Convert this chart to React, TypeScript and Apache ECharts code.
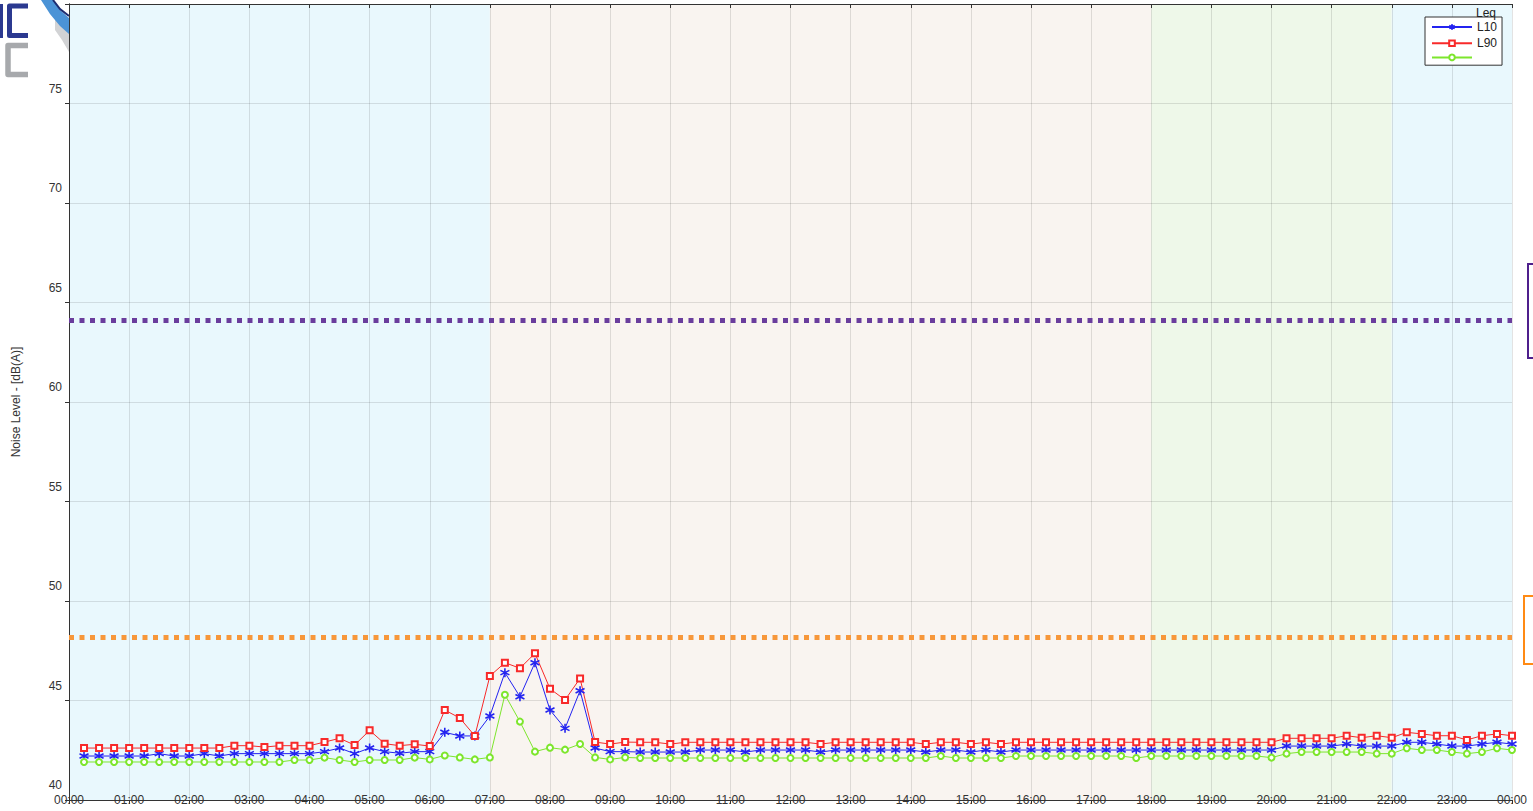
import React, { useEffect, useRef } from "react";
import * as echarts from "echarts";

// ---- data ----
const X_TICK_LABELS = [
  "00:00", "01:00", "02:00", "03:00", "04:00", "05:00", "06:00", "07:00",
  "08:00", "09:00", "10:00", "11:00", "12:00", "13:00", "14:00", "15:00",
  "16:00", "17:00", "18:00", "19:00", "20:00", "21:00", "22:00", "23:00", "00:00",
];

// sample times in minutes after midnight (every 15 minutes, 00:15 .. 24:00)
const TIMES = Array.from({ length: 96 }, (_, i) => (i + 1) * 15);

const SERIES_NAMES = ["Leq", "L10", "L90"];
const LEGEND_LABELS = ["L10", "L90", ""];

const LEQ = [
  42.21, 42.21, 42.21, 42.21, 42.21, 42.33, 42.21, 42.21, 42.33, 42.21,
  42.33, 42.33, 42.33, 42.33, 42.33, 42.33, 42.43, 42.61, 42.33, 42.61,
  42.43, 42.35, 42.43, 42.43, 43.4, 43.22, 43.22, 44.22, 46.4, 45.19,
  46.9, 44.52, 43.6, 45.49, 42.61, 42.43, 42.43, 42.41, 42.41, 42.41,
  42.41, 42.51, 42.51, 42.51, 42.41, 42.51, 42.51, 42.51, 42.51, 42.41,
  42.51, 42.51, 42.51, 42.51, 42.51, 42.51, 42.41, 42.51, 42.51, 42.41,
  42.51, 42.41, 42.51, 42.51, 42.51, 42.51, 42.51, 42.51, 42.51, 42.51,
  42.51, 42.51, 42.51, 42.51, 42.51, 42.51, 42.51, 42.51, 42.51, 42.51,
  42.71, 42.71, 42.71, 42.71, 42.81, 42.71, 42.71, 42.71, 42.9, 42.9,
  42.81, 42.71, 42.71, 42.81, 42.9, 42.81,
];

const L10 = [
  42.61, 42.61, 42.61, 42.61, 42.61, 42.61, 42.61, 42.61, 42.61, 42.61,
  42.73, 42.73, 42.66, 42.73, 42.73, 42.73, 42.91, 43.1, 42.76, 43.5,
  42.83, 42.73, 42.8, 42.71, 44.52, 44.12, 43.22, 46.23, 46.9, 46.62,
  47.37, 45.59, 45.03, 46.11, 42.91, 42.81, 42.91, 42.9, 42.9, 42.81,
  42.9, 42.9, 42.9, 42.9, 42.9, 42.9, 42.9, 42.9, 42.9, 42.81,
  42.9, 42.9, 42.9, 42.9, 42.9, 42.9, 42.81, 42.9, 42.9, 42.81,
  42.9, 42.81, 42.9, 42.9, 42.9, 42.9, 42.9, 42.9, 42.9, 42.9,
  42.9, 42.9, 42.9, 42.9, 42.9, 42.9, 42.9, 42.9, 42.9, 42.9,
  43.1, 43.1, 43.1, 43.1, 43.23, 43.13, 43.23, 43.13, 43.4, 43.32,
  43.23, 43.23, 43.02, 43.23, 43.32, 43.23,
];

const L90 = [
  41.91, 41.91, 41.91, 41.91, 41.91, 41.91, 41.91, 41.91, 41.91, 41.91,
  41.91, 41.91, 41.91, 41.91, 42.01, 42.01, 42.13, 42.01, 41.91, 42.01,
  42.01, 42.01, 42.13, 42.04, 42.24, 42.14, 42.04, 42.14, 45.29, 43.94,
  42.43, 42.63, 42.53, 42.81, 42.14, 42.04, 42.14, 42.11, 42.11, 42.11,
  42.11, 42.11, 42.11, 42.11, 42.11, 42.11, 42.11, 42.11, 42.11, 42.11,
  42.11, 42.11, 42.11, 42.11, 42.11, 42.11, 42.11, 42.21, 42.11, 42.11,
  42.11, 42.11, 42.21, 42.21, 42.21, 42.21, 42.21, 42.21, 42.21, 42.21,
  42.11, 42.21, 42.21, 42.21, 42.21, 42.21, 42.21, 42.21, 42.21, 42.13,
  42.33, 42.41, 42.41, 42.41, 42.41, 42.41, 42.33, 42.33, 42.6, 42.51,
  42.51, 42.41, 42.33, 42.41, 42.6, 42.51,
];

// period bands in minutes: [start, end]
const BANDS = [
  [0, 420],
  [420, 1080],
  [1080, 1320],
  [1320, 1440],
];
const BAND_COLORS = ["#e9f8fd", "#f9f4f0", "#eef8e9", "#e9f8fd"];

const LIMITS = [64.1, 48.2];
const LIMIT_COLORS = ["#6a3d9d", "#f7973a"];

const BLUE = "#2323f0";
const RED = "#f82a2a";
const GREEN = "#7de62c";

const ASTERISK = "path://M5,0L5,10M0.7,2.5L9.3,7.5M0.7,7.5L9.3,2.5";

export default function App() {
  const ref = useRef<HTMLDivElement>(null);

  useEffect(() => {
    if (!ref.current) return;
    const chart = echarts.init(ref.current, undefined, { renderer: "svg" });
    const font = "'Liberation Sans', Arial, sans-serif";
    const pair = (d: number[]) => TIMES.map((t, i) => [t, d[i]]);

    const option: any = {
      animation: false,
      backgroundColor: "#ffffff",
      textStyle: { fontFamily: font },
      grid: { left: 69, right: 21, top: 4, bottom: 11, containLabel: false },
      legend: {
        orient: "vertical",
        left: 1425,
        top: 17,
        padding: [4, 5, 4, 6],
        itemWidth: 40,
        itemHeight: 7,
        itemGap: 4.3,
        backgroundColor: "#ffffff",
        borderColor: "#333333",
        borderWidth: 1,
        borderRadius: 0,
        data: SERIES_NAMES,
        formatter: (name: string) => LEGEND_LABELS[SERIES_NAMES.indexOf(name)],
        textStyle: { fontSize: 12, color: "#222", fontFamily: font, lineHeight: 12 },
        selectedMode: false,
      },
      xAxis: [
        {
          type: "value",
          min: 0,
          max: 1440,
          interval: 60,
          z: 2,
          axisLine: { show: true, lineStyle: { color: "#333", width: 1 } },
          axisTick: { show: true, length: 4, lineStyle: { color: "#333" } },
          axisLabel: {
            formatter: (v: number) => X_TICK_LABELS[Math.round(v / 60)],
            verticalAlign: "middle",
            margin: 0,
            color: "#333",
            fontSize: 12,
            fontFamily: font,
            showMinLabel: true,
            showMaxLabel: true,
          },
          splitLine: { show: true, lineStyle: { color: "rgba(0,0,0,0.11)", width: 1 } },
        },
        {
          type: "value",
          position: "top",
          min: 0,
          max: 1440,
          interval: 60,
          z: 2,
          axisLine: { show: true, lineStyle: { color: "#333", width: 1 } },
          axisTick: { show: true, inside: true, length: 4, lineStyle: { color: "#333" } },
          axisLabel: { show: false },
          splitLine: { show: false },
        },
      ],
      yAxis: [
        {
          type: "value",
          min: 40,
          max: 80,
          interval: 5,
          z: 2,
          name: "Noise Level - [dB(A)]",
          nameLocation: "middle",
          nameGap: 47,
          nameTextStyle: { fontSize: 12, color: "#333", fontFamily: font },
          axisLine: { show: true, lineStyle: { color: "#333", width: 1 } },
          axisTick: { show: true, length: 4, lineStyle: { color: "#333" } },
          axisLabel: {
            verticalAlign: "bottom",
            padding: [0, 0, 9, 0],
            margin: 7,
            color: "#333",
            fontSize: 12,
            fontFamily: font,
            showMaxLabel: false,
          },
          splitLine: { show: true, lineStyle: { color: "rgba(0,0,0,0.11)", width: 1 } },
        },
        {
          type: "value",
          position: "right",
          min: 40,
          max: 80,
          interval: 5,
          z: 2,
          axisLine: { show: true, lineStyle: { color: "#333", width: 1 } },
          axisTick: { show: true, inside: true, length: 4, lineStyle: { color: "#333" } },
          axisLabel: { show: false },
          splitLine: { show: false },
        },
      ],
      series: [
        {
          name: "bands",
          type: "line",
          data: [],
          z: 1,
          silent: true,
          markArea: {
            silent: true,
            data: BANDS.map((b, i) => [
              { xAxis: b[0], itemStyle: { color: BAND_COLORS[i] } },
              { xAxis: b[1] },
            ]),
          },
        },
        {
          name: "limits",
          type: "line",
          data: [],
          z: 3,
          silent: true,
          markLine: {
            silent: true,
            symbol: "none",
            label: { show: false },
            data: LIMITS.map((y, i) => ({
              yAxis: y,
              lineStyle: {
                color: LIMIT_COLORS[i],
                width: 5,
                type: [5, 5.5],
                cap: "butt",
              },
            })),
          },
        },
        {
          name: SERIES_NAMES[0],
          type: "line",
          z: 4,
          data: pair(LEQ),
          symbol: ASTERISK,
          symbolSize: 9,
          lineStyle: { color: BLUE, width: 1 },
          itemStyle: { color: BLUE, borderColor: BLUE, borderWidth: 1.6 },
        },
        {
          name: SERIES_NAMES[1],
          type: "line",
          z: 4,
          data: pair(L10),
          symbol: "emptyRect",
          symbolSize: 6,
          lineStyle: { color: RED, width: 1 },
          itemStyle: { color: RED, borderColor: RED, borderWidth: 1 },
        },
        {
          name: SERIES_NAMES[2],
          type: "line",
          z: 4,
          data: pair(L90),
          symbol: "emptyCircle",
          symbolSize: 6,
          lineStyle: { color: GREEN, width: 1 },
          itemStyle: { color: GREEN, borderColor: GREEN, borderWidth: 1 },
        },
      ],
      graphic: [
        // logo fragments at top-left
        { type: "rect", z: 0, shape: { x: 0, y: 4, width: 3, height: 34 }, style: { fill: "#2b3990" } },
        {
          type: "polyline",
          z: 0,
          shape: { points: [[28, 6], [9.5, 6], [9.5, 35.5], [28, 35.5]] },
          style: { stroke: "#2b3990", lineWidth: 5, fill: "none", lineJoin: "round" },
        },
        {
          type: "polyline",
          z: 0,
          shape: { points: [[28, 45.5], [8, 45.5], [8, 74.5], [28, 74.5]] },
          style: { stroke: "#a7a9ac", lineWidth: 5.5, fill: "none", lineJoin: "round" },
        },
        {
          type: "polygon",
          z: 0,
          shape: { points: [[55, 16], [69, 30], [69, 52], [62, 40], [55, 30]] },
          style: { fill: "#d2d3d5" },
        },
        {
          type: "polygon",
          z: 0,
          shape: { points: [[41, 0], [53, 0], [60, 10], [69, 18], [69, 34], [60, 26], [50, 14]] },
          style: { fill: "#4b93d6" },
        },
        {
          type: "polyline",
          z: 0,
          shape: { points: [[53, 0], [60, 9], [69, 16]] },
          style: { stroke: "#1d2c70", lineWidth: 2, fill: "none" },
        },
        // "Leq" legend title
        {
          type: "text",
          z: 10,
          left: 1476,
          top: 7,
          style: { text: "Leq", fontSize: 12, fill: "#222", fontFamily: font },
        },
        // partially visible boxes at right edge
        {
          type: "rect",
          z: 10,
          shape: { x: 1528, y: 264, width: 30, height: 94 },
          style: { fill: "none", stroke: "#4e1f8c", lineWidth: 2 },
        },
        {
          type: "rect",
          z: 10,
          shape: { x: 1524, y: 596, width: 30, height: 68 },
          style: { fill: "none", stroke: "#ff8a14", lineWidth: 2 },
        },
      ],
    };

    chart.setOption(option);
    return () => chart.dispose();
  }, []);

  return (
    <div
      ref={ref}
      style={{ position: "absolute", left: 0, top: 0, width: 1533, height: 811 }}
    />
  );
}
